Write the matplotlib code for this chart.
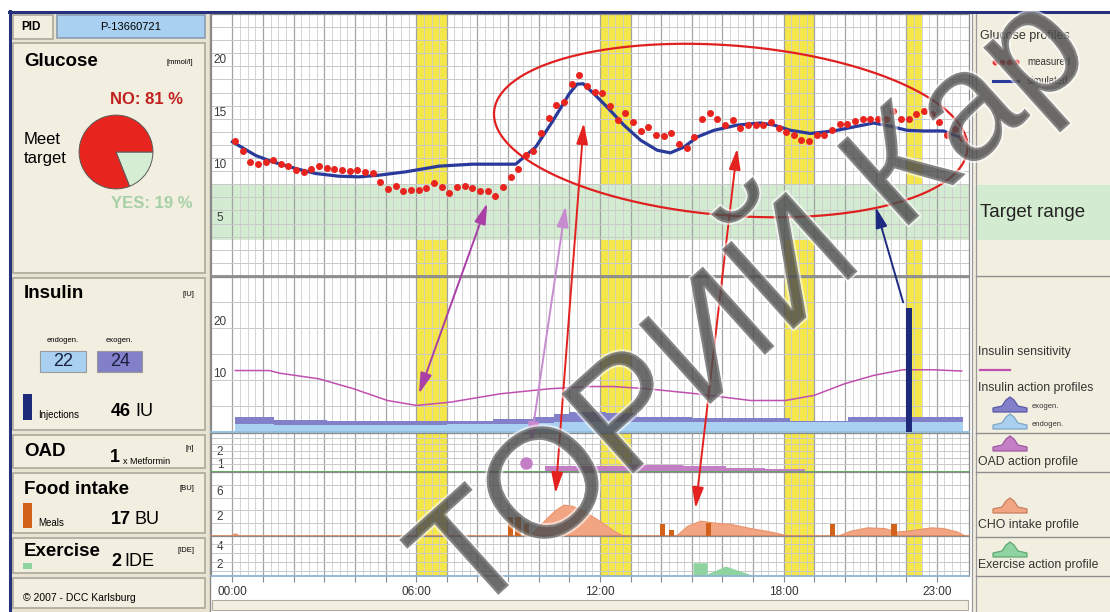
import numpy as np
import matplotlib
matplotlib.use('Agg')
import matplotlib.pyplot as plt
import matplotlib.patheffects as pe
import matplotlib.transforms as mtransforms
from matplotlib.patches import Rectangle, Polygon, ConnectionPatch

plt.rcParams['font.family'] = ['Liberation Sans', 'DejaVu Sans']

W, H = 1110, 612

# ---------------- data ----------------
# glucose readings [mmol/l], one every 15 minutes
FIRST_READING_H = 0.08
glucose_measured = [
    12.9, 11.9, 10.9, 10.7, 10.85, 11.05, 10.7, 10.5, 10.1, 9.97,
    10.2, 10.5, 10.35, 10.2, 10.1, 10.03, 10.1, 9.97, 9.84, 9.0,
    8.3, 8.57, 8.13, 8.2, 8.2, 8.44, 8.83, 8.5, 7.94, 8.5,
    8.57, 8.44, 8.13, 8.13, 7.62, 8.5, 9.46, 10.2, 11.5, 11.9,
    13.65, 15.1, 16.3, 16.6, 18.3, 19.2, 18.1, 17.55, 17.46, 16.25,
    14.9, 15.6, 14.67, 13.84, 14.2, 13.5, 13.4, 13.65, 12.57, 12.25,
    13.27, 14.98, 15.6, 14.98, 14.4, 14.86, 14.16, 14.4, 14.4, 14.4,
    14.67, 14.16, 13.7, 13.5, 12.95, 12.9, 13.5, 13.45, 13.9, 14.5,
    14.5, 14.8, 14.98, 14.98, 14.98, 14.98, 15.75, 14.98, 14.98, 15.5,
    15.75, 15.5, 14.67, 13.46, 14.03, 13.2,
]
glucose_hours = FIRST_READING_H + 0.25 * np.arange(len(glucose_measured))

sim_hours = [0.0, 0.76, 1.3, 2.07, 2.72, 3.48, 4.13, 4.79, 5.66, 6.74,
             7.83, 9.25, 9.4, 9.9, 10.44, 11.0, 11.25, 11.45, 11.8, 12.24, 12.78,
             13.33, 13.87, 14.3, 14.74, 15.18, 15.72, 16.48, 17.24, 17.68, 18.22,
             18.87, 19.63, 20.4, 20.94, 21.48, 22.03, 22.57, 23.22, 23.88]
sim_glucose = [12.8, 11.5, 10.9, 10.25, 9.78, 9.52, 9.46, 9.62, 9.94, 10.48,
               10.67, 10.67, 11.05, 12.3, 14.7, 17.4, 18.3, 18.35, 17.4, 16.1, 14.4,
               12.95, 12.0, 11.75, 12.3, 13.27, 13.9, 14.4, 14.6, 14.4, 13.9,
               13.6, 13.84, 14.29, 14.6, 14.29, 13.9, 13.84, 13.84, 13.1]

target_low, target_high = 3.4, 8.7
target_no, target_yes = 81, 19

# insulin [IU]
sens_hours = [0.09, 1.21, 1.53, 2.82, 3.94, 5.06, 6.02, 7.14, 8.75, 10.35, 11.63,
              12.43, 13.55, 15.15, 16.92, 18.05, 19.0, 19.97, 20.93, 21.89, 22.86, 23.81]
sens_values = [11.8, 11.8, 11.3, 10.2, 8.3, 6.0, 5.04, 5.7, 7.3, 8.27, 8.7,
               8.7, 8.27, 7.3, 6.0, 6.0, 7.0, 9.2, 10.85, 11.95, 11.95, 11.7]
ins_hours = [0.08, 1.35, 3.1, 7.0, 8.5, 9.8, 10.5, 11.0, 12.2, 13.2, 15.0, 18.2, 20.1, 23.87]
endo_action = [1.5, 1.3, 1.3, 1.4, 1.5, 1.6, 1.8, 1.9, 1.9, 1.8, 1.8, 1.8, 1.8, 1.8]
exo_action = [1.3, 1.0, 0.7, 0.7, 0.9, 1.3, 1.6, 1.8, 1.6, 1.0, 0.85, 0.15, 1.1, 1.1]
injection_hours = [22.1]
injection_iu = [24]
endogen_iu, exogen_iu = 22, 24

# oral antidiabetics
oad_hours = [9.6]
oad_level = [1.58]
oad_count = 1
oad_profile_hours = [10.2, 12.9, 14.7, 16.1, 17.4, 18.7]
oad_profile = [1.38, 1.45, 1.38, 1.25, 1.13, 0.95]

# food intake [BU]
meal_hours = [9.08, 9.33, 9.6, 14.05, 14.33, 15.55, 19.6, 21.6]
meal_bu = [3.0, 3.0, 1.9, 1.9, 0.95, 2.0, 1.9, 1.9]
cho_hours = [0.0, 0.1, 0.25, 9.68, 10.0, 10.28, 10.55, 10.82, 11.1, 11.37, 11.9, 12.45, 12.78,
             14.47, 14.85, 15.28, 15.72, 16.26, 16.9, 17.57, 18.2,
             19.74, 20.18, 20.72, 21.27, 21.7, 22.03, 22.8, 23.2, 23.66, 23.88]
cho_values = [0.3, 0.4, 0.0, 0.0, 1.5, 2.9, 4.1, 4.9, 4.7, 4.2, 2.65, 0.8, 0.0,
              0.0, 1.6, 2.4, 2.1, 1.9, 1.25, 0.7, 0.0,
              0.0, 0.83, 1.35, 1.25, 0.7, 0.83, 1.35, 1.25, 0.7, 0.15]

# exercise [IDE]
exercise_hours = [15.04, 15.04, 15.5, 15.5, 16.1, 17.05]
exercise_values = [1.45, 2.9, 2.9, 1.67, 2.54, 1.45]
exercise_ide = 2

light_hours = [(6, 7), (12, 13), (18, 19), (22.0, 22.5)]
label_hours = [0, 6, 12, 18, 23]

# ---------------- colours ----------------
BEIGE = '#f2eee0'
BEIGE_DARK = '#e9e4d1'
BOX_EDGE = '#aca89c'
LIGHT_BLUE = '#a9d0f0'
EXO = '#8280c8'
RED = '#e8241f'
NAVY = '#1d2a7a'
GREEN_T = '#d3ebd0'
YELLOW = '#f5e649'
ORANGE = '#d2621a'
SALMON = '#f2a583'
PINK = '#c47ec6'
MAGENTA = '#c04fb0'
EX_GREEN = '#8fd3a0'

fig = plt.figure(figsize=(W / 100, H / 100), dpi=100)


def px_axes(left, top, right, bottom):
    return fig.add_axes([left / W, 1 - bottom / H, (right - left) / W, (bottom - top) / H])


bg = px_axes(0, 0, W, H)
bg.set_xlim(0, W)
bg.set_ylim(H, 0)
bg.axis('off')


def box(x0, y0, x1, y1, fc=BEIGE, ec=BOX_EDGE, lw=1.2):
    bg.add_patch(Rectangle((x0, y0), x1 - x0, y1 - y0, fc=fc, ec=ec, lw=lw))


def txt(x, y, s, size, **kw):
    kw.setdefault('va', 'center')
    bg.text(x, y, s, fontsize=size, **kw)


# ---------------- left info panel ----------------
bg.add_patch(Rectangle((9, 12), 201, 600, fc=BEIGE_DARK, ec='none'))
box(13, 15, 53, 39)
box(57, 15, 205, 38, fc=LIGHT_BLUE, ec='#8a9cb0')
txt(21, 27, 'PID', 8.5, fontweight='bold')
txt(131, 27, 'P-13660721', 8, ha='center')

box(13, 43, 205, 273)
txt(24, 62, 'Glucose', 13.5, fontweight='bold')
txt(193, 62, '[mmol/l]', 5.5, ha='right')
txt(147, 100, f'NO: {target_no} %', 12, fontweight='bold', color='#c0201e', ha='center')
txt(24, 140, 'Meet', 12)
txt(24, 159, 'target', 12)
txt(152, 204, f'YES: {target_yes} %', 12, fontweight='bold', color='#a6d1a6', ha='center')

box(13, 278, 205, 430)
txt(24, 294, 'Insulin', 13.5, fontweight='bold')
txt(194, 294, '[IU]', 5.5, ha='right')
txt(63, 341, 'endogen.', 5.5, ha='center')
txt(119, 341, 'exogen.', 5.5, ha='center')
box(40, 351, 86, 372, fc=LIGHT_BLUE, ec='#9a9a9a', lw=0.8)
box(97, 351, 142, 372, fc=EXO, ec='#9a9a9a', lw=0.8)
txt(63, 362, str(endogen_iu), 13, ha='center', color='#1a2040')
txt(120, 362, str(exogen_iu), 13, ha='center', color='#1a2040')
bg.add_patch(Rectangle((23, 394), 9, 26, fc=NAVY, ec='none'))
txt(38, 415, 'Injections', 7)
txt(111, 412, str(endogen_iu + exogen_iu), 13, fontweight='bold')
txt(135, 412, 'IU', 13)

box(13, 435, 205, 468)
txt(24, 451, 'OAD', 13.5, fontweight='bold')
txt(110, 458, str(oad_count), 13, fontweight='bold')
txt(123, 461, 'x Metformin', 6.5)
txt(185, 449, '[n]', 5.5)

box(13, 473, 205, 533)
txt(24, 489, 'Food intake', 13.5, fontweight='bold')
txt(194, 489, '[BU]', 5.5, ha='right')
bg.add_patch(Rectangle((23, 503), 9, 25, fc=ORANGE, ec='none'))
txt(38, 523, 'Meals', 7)
txt(111, 520, str(round(sum(meal_bu))), 13, fontweight='bold')
txt(134, 520, 'BU', 13)

box(13, 538, 205, 573)
txt(24, 552, 'Exercise', 13.5, fontweight='bold')
txt(111, 562, str(exercise_ide), 13, fontweight='bold')
txt(124, 562, 'IDE', 13)
txt(194, 550, '[IDE]', 5.5, ha='right')
bg.add_patch(Rectangle((23, 563), 9, 6, fc=EX_GREEN, ec='none'))

box(13, 578, 205, 608)
txt(23, 598, '\u00a9 2007 - DCC Karlsburg', 7.5)

ax_p = px_axes(78, 114, 154, 190)
ax_p.pie([target_yes, target_no], colors=['#d5edd3', RED], startangle=0, counterclock=False,
         wedgeprops=dict(edgecolor='#5a5a5a', linewidth=0.7))
ax_p.set_xlim(-1.03, 1.03)
ax_p.set_ylim(-1.03, 1.03)

# ---------------- right legend panel ----------------
bg.add_patch(Rectangle((972, 12), 138, 600, fc=BEIGE, ec='none'))
for xl in (972, 975.5):
    bg.plot([xl, xl], [12, 612], color='#9a9a9a', lw=0.9)
for yl in (276, 432.5, 471.5, 536.5, 576):
    bg.plot([976, W], [yl, yl], color='#8e8e8e', lw=1)
bg.plot([210, 210], [12, 612], color='#8a8a8a', lw=1)
box(212, 600, 968, 610, fc=BEIGE, ec='#b0ac9e', lw=0.8)
bg.plot([9, W], [11.5, 11.5], color='#27307a', lw=2.2)
bg.plot([9.5, 9.5], [11, H], color='#27307a', lw=2.2)

txt(980, 36, 'Glucose profiles', 9, color='#333')
bg.plot([995, 1002, 1009, 1016], [62] * 4, 'o', ms=3.2, color=RED)
txt(1027, 62, 'measured', 7, color='#333')
bg.plot([993, 1018], [81, 81], color='#2a3a9a', lw=2.2)
txt(1027, 81, 'simulated', 7, color='#333')


def hump(x0, ybot, fc, ec):
    xs = [x0, x0, x0 + 9, x0 + 13, x0 + 17, x0 + 21, x0 + 25, x0 + 34, x0 + 34]
    ys = [ybot, ybot - 4, ybot - 6, ybot - 12, ybot - 15, ybot - 12, ybot - 6, ybot - 4, ybot]
    bg.add_patch(Polygon(list(zip(xs, ys)), closed=True, fc=fc, ec=ec, lw=0.9))


txt(978, 352, 'Insulin sensitivity', 8.8, color='#333')
bg.plot([980, 1010], [370, 370], color=MAGENTA, lw=1.6)
txt(978, 388, 'Insulin action profiles', 8.8, color='#333')
hump(993, 412, EXO, '#5b58a8')
txt(1032, 407, 'exogen.', 5.5, color='#333')
hump(993, 429, LIGHT_BLUE, '#7da6c8')
txt(1032, 425, 'endogen.', 5.5, color='#333')
hump(993, 451, PINK, '#9e5aa0')
txt(978, 462, 'OAD action profile', 8.8, color='#333')
hump(993, 513, SALMON, '#c88060')
txt(978, 525, 'CHO intake profile', 8.8, color='#333')
hump(993, 557, EX_GREEN, '#62a872')
txt(978, 565, 'Exercise action profile', 8.8, color='#333')

# ---------------- chart panels ----------------
ax_g = px_axes(211, 14, 969, 276)
ax_i = px_axes(211, 276.5, 969, 431.5)
ax_o = px_axes(211, 432.5, 969, 472)
ax_f = px_axes(211, 472, 969, 536)
ax_e = px_axes(211, 536, 969, 576)


def style_panel(ax, ylim, yticks, ygrid, bottom_color):
    ax.set_xlim(-0.7, 24.05)
    ax.set_ylim(*ylim)
    ax.set_xticks(np.arange(0, 24, 1))
    ax.set_xticks(np.arange(0, 24, 0.25), minor=True)
    ax.set_yticks(yticks)
    ax.set_yticks(ygrid, minor=True)
    ax.set_yticklabels([str(t) for t in yticks])
    ax.grid(which='major', axis='x', color='#a3a3a3', lw=0.9)
    ax.grid(which='minor', axis='x', color='#cdcdcd', lw=0.6)
    ax.grid(which='both', axis='y', color='#c9c9c9', lw=0.7)
    ax.tick_params(axis='x', which='both', length=0, labelbottom=False)
    ax.tick_params(axis='y', which='both', length=0, pad=-6.5, labelsize=8.5, labelcolor='#3a3a3a')
    for lab in ax.get_yticklabels():
        lab.set_ha('center')
        lab.set_va('bottom')
    for sp in ax.spines.values():
        sp.set_color('#8a8a8a')
        sp.set_linewidth(0.9)
    ax.spines['bottom'].set_color(bottom_color)
    ax.spines['bottom'].set_linewidth(1.3)
    for lo, hi in light_hours:
        ax.axvspan(lo, hi, color=YELLOW, lw=0, zorder=0.4)


style_panel(ax_g, (0, 25), [5, 10, 15, 20], np.arange(1.25, 25, 1.25), '#8a8a8a')
style_panel(ax_i, (0, 30), [10, 20], [5, 15, 25], '#8fbfe0')
style_panel(ax_o, (0.925, 3.9), [1, 2], [1.5, 2.5, 3, 3.5], '#5aab5a')
style_panel(ax_f, (0, 10), [2, 6], [4, 8], '#e38a5c')
style_panel(ax_e, (1.45, 5.82), [2, 4], [3, 5], '#8fb3d0')

# glucose
ax_g.axhspan(target_low, target_high, color=GREEN_T, lw=0, zorder=1)
ax_g.plot(sim_hours, sim_glucose, color='#2a3a9a', lw=2.3, zorder=3)
ax_g.plot(glucose_hours, glucose_measured, 'o', ms=4.0, color=RED, zorder=4)
theta = np.linspace(0, 2 * np.pi, 300)
ax_g.plot(16.27 + 7.71 * np.cos(theta) - 0.56 * np.sin(theta),
          13.88 + 8.22 * np.sin(theta) - 0.98 * np.cos(theta),
          color='#e02020', lw=1.6, zorder=5)

# target range strip carried into the legend panel
band_tr = mtransforms.blended_transform_factory(bg.transData, ax_g.transData)
bg.add_patch(Rectangle((976, target_low), W - 976, target_high - target_low,
                       transform=band_tr, fc=GREEN_T, ec='none'))
bg.text(980, (target_low + target_high) / 2, 'Target range', fontsize=13.5, color='#222',
        va='center', transform=band_tr)

# insulin
endo = np.array(endo_action)
exo_top = endo + np.array(exo_action)
ax_i.fill_between(ins_hours, 0, endo, step='post', color=LIGHT_BLUE, lw=0, zorder=2)
ax_i.fill_between(ins_hours, endo, exo_top, step='post', color=EXO, lw=0, zorder=2)
ax_i.plot(sens_hours, sens_values, color=MAGENTA, lw=1.1, zorder=3)
ax_i.bar(injection_hours, injection_iu, width=0.2, color=NAVY, zorder=4)

# OAD
ax_o.fill_between(oad_profile_hours, 0.95, oad_profile, step='post', color=PINK, lw=0, zorder=2)
ax_o.plot(oad_hours, oad_level, 'o', ms=8, color=PINK, zorder=3)

# food
ax_f.fill_between(cho_hours, 0, cho_values, color=SALMON, lw=0.8, edgecolor='#e8946c', zorder=2)
ax_f.bar(meal_hours, meal_bu, width=0.18, color=ORANGE, zorder=3)

# exercise
ax_e.fill_between(exercise_hours, 1.45, exercise_values, color=EX_GREEN, lw=0, zorder=2)
ax_e.tick_params(axis='x', which='major', length=4, color='#8a8a8a', labelbottom=True,
                 labelsize=8.5, labelcolor='#333', pad=3)
ax_e.set_xticklabels([f'{h:02d}:00' if h in label_hours else '' for h in range(24)])

# ---------------- cause / effect arrows ----------------
arrows = [
    (ax_g, (8.32, 6.95), ax_i, (6.09, 7.3), '#aa3fa8', '<|-|>'),
    (ax_g, (10.88, 6.67), ax_o, (9.74, 3.1), '#c78bd0', '<|-|>'),
    (ax_g, (11.47, 14.6), ax_f, (10.55, 6.67), '#e3211f', '<|-|>'),
    (ax_g, (16.48, 12.16), ax_f, (15.12, 4.33), '#e3211f', '<|-|>'),
    (ax_g, (21.0, 6.6), ax_i, (21.9, 25.0), '#1d2a80', '<|-'),
]
for axA, xyA, axB, xyB, col, style in arrows:
    con = ConnectionPatch(xyA=xyA, coordsA='data', axesA=axA, xyB=xyB, coordsB='data', axesB=axB,
                          arrowstyle=style + ',head_length=0.9,head_width=0.25',
                          mutation_scale=14, color=col, lw=1.4)
    con.set_zorder(20)
    fig.add_artist(con)

# watermark across the whole sheet
fig.text(745 / W, 1 - 299 / H, 'ТОРИЙ Кар', rotation=42, rotation_mode='anchor',
         fontsize=112, color='#4d4d4d', alpha=0.58, ha='center', va='center', zorder=30,
         path_effects=[pe.withStroke(linewidth=3, foreground='white')])

fig.savefig('out.png', dpi=100, facecolor='white')
